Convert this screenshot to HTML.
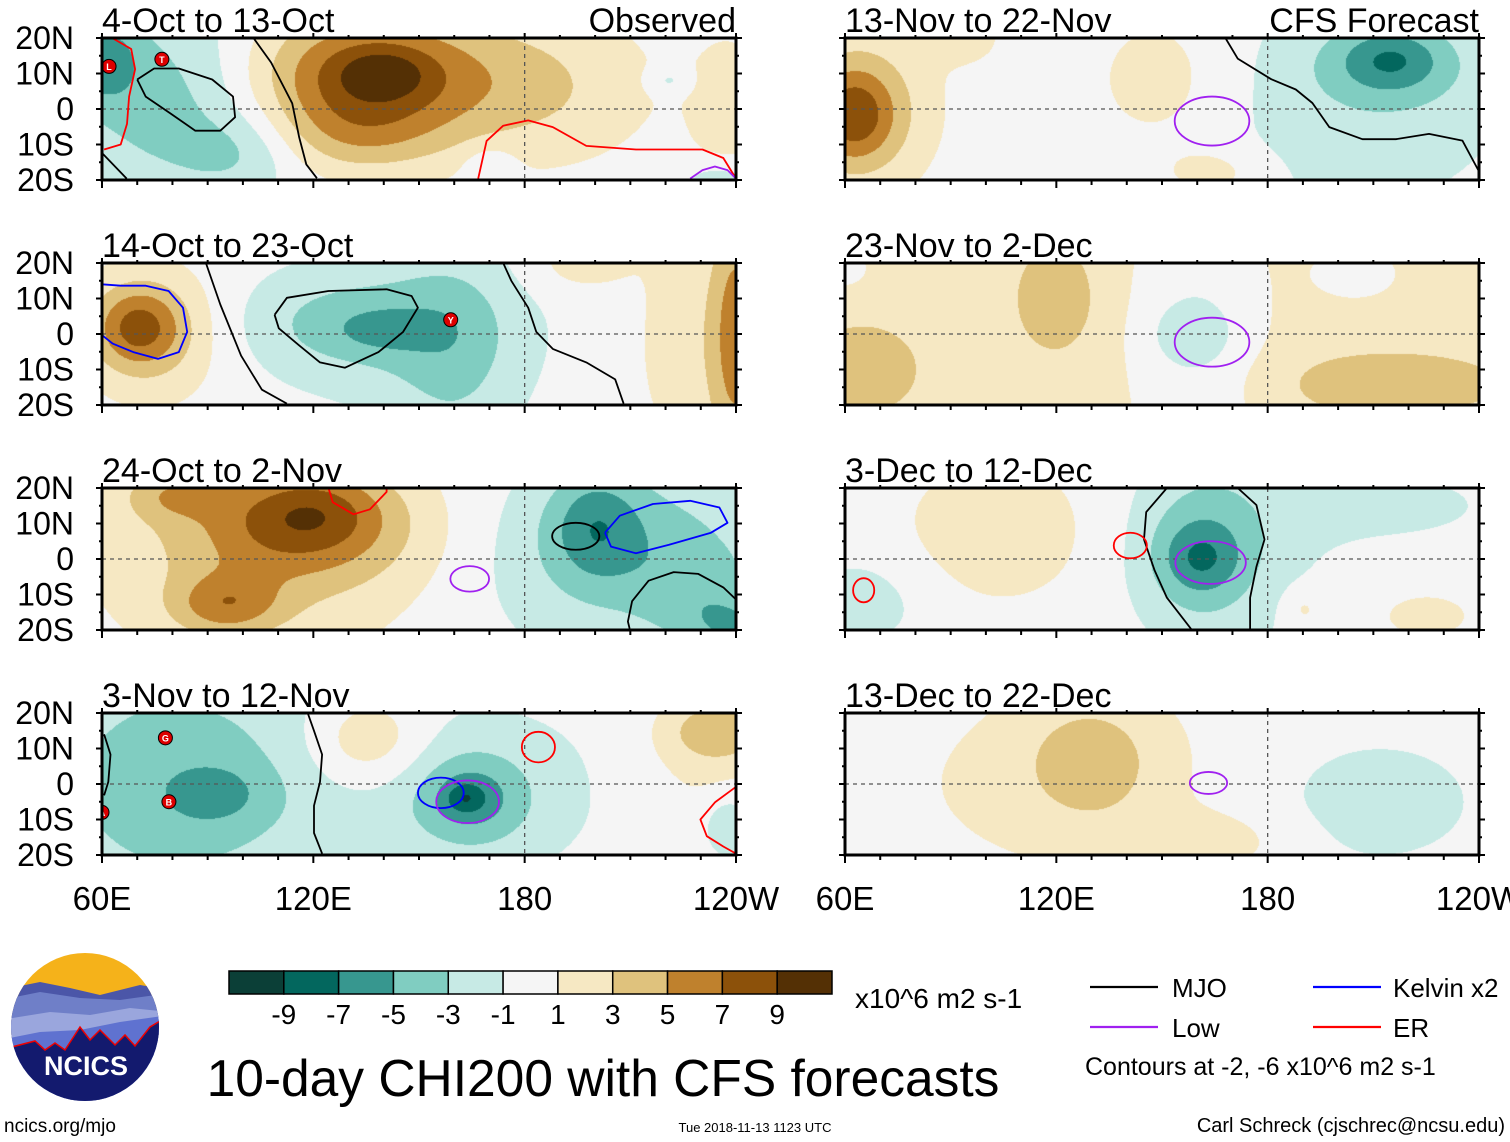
<!DOCTYPE html>
<html><head><meta charset="utf-8"><style>
html,body{margin:0;padding:0;background:#fff;}
#wrap{position:relative;width:1510px;height:1142px;overflow:hidden;font-family:"Liberation Sans",sans-serif;}
canvas{position:absolute;}
svg{position:absolute;left:0;top:0;}
</style></head><body>
<div id="wrap">
<svg id="ov" width="1510" height="1142"></svg>
</div>
<script>
// ---- data ----
const panelTitles = ["4-Oct to 13-Oct","14-Oct to 23-Oct","24-Oct to 2-Nov","3-Nov to 12-Nov","13-Nov to 22-Nov","23-Nov to 2-Dec","3-Dec to 12-Dec","13-Dec to 22-Dec"];
const lonTickLabels = ["60E","120E","180","120W"];
const lonTickValues = [60,120,180,240];
const latTickLabels = ["20N","10N","0","10S","20S"];
const latTickValues = [20,10,0,-10,-20];
const colorBins = ["#0b3f37","#03675e","#37978f","#80cdc1","#c7eae5","#f5f5f5","#f6e8c3","#dfc27d","#bf812d","#8c510a","#543005"];
const colorbarLabels = ["-9","-7","-5","-3","-1","1","3","5","7","9"];
const panelBase = [0,0,0,0,0,1.8,0,0];
// blobs: [lon, lat, sigmaLon, sigmaLat, amplitude]
const fieldBlobs = [
 [[140,10,9,5,2.8],[135,9,24,13,8.2],[132,-8,18,8,2.5],[185,6,22,15,2.8],[238,0,8,15,2],[60,14,7,8,-4.5],[78,3,22,20,-4],[100,-12,12,8,-2.2],[221,8,4,2.5,-2],[236,-20,8,4,-2.5],[170,-16,5,4,-2]],
 [[70,2,9,8,5.5],[75,0,14,14,3],[240,0,5,30,4.5],[230,-2,14,25,2.2],[140,1,9,4,-1.8],[130,3,22,10,-3],[160,-5,12,20,-2.5],[150,0,30,20,-1.5],[195,20,10,6,2]],
 [[120,14,14,8,3.5],[115,8,25,12,4.5],[80,18,10,5,3],[95,-13,11,6,4.5],[110,0,40,25,2.2],[200,10,9,11,-3.5],[210,5,25,15,-2.8],[240,-19,8,5,-3],[200,-5,40,25,-1.5],[230,-12,12,10,-2.2]],
 [[92,-3,10,6,-2.5],[80,0,32,28,-4],[163,-4,4,3,-3],[165,-4,10,8,-3],[165,-5,16,13,-2],[170,0,40,20,-1.2],[238,-12,5,6,-3],[135,12,12,9,3.5],[235,15,10,6,4],[230,5,15,15,1.5]],
 [[62,-2,8,9,5],[65,0,14,16,4],[150,8,15,15,2],[165,-18,10,5,2],[95,20,8,6,1.5],[215,14,10,6,-3.5],[215,12,18,10,-2.5],[205,0,35,25,-1.8]],
 [[120,10,9,12,2.5],[215,-14,25,7,2.5],[65,-10,15,12,2],[160,0,14,30,-2.5],[158,0,8,6,-2],[205,17,10,6,-1.5],[60,18,6,5,-1.5]],
 [[103,8,18,14,2.5],[161,0,8,7,-3.2],[160,2,13,16,-3],[170,5,18,25,-1.5],[215,15,30,10,-1.3],[65,-12,14,10,-1.8],[190,-14,4,4,1.8],[225,-16,10,5,1.8]],
 [[130,7,14,13,3],[120,0,35,20,1.5],[165,-16,15,6,1.8],[210,-5,25,15,-1.7]]
];
// contour polylines: [color, lons, lats]
const contourLines = [
 [["#000",[103,108,114,116,118,121],[20,13.1,1.6,-8,-15.6,-19.5]],
  ["#000",[70,74.8,81.8,91.3,97.2,97.8,93.6,86.5,79.5,72.4,70],[8.3,11.4,11.4,8.3,3.5,-2.3,-6.1,-6.1,-1.3,3.5,8.3]],
  ["#000",[60,67],[-12.4,-19.6]],
  ["#f00",[62.9,68.3,69.4,67.7,67.1,65.3,60.6],[20,16.9,11.2,3.5,-4.2,-10,-11.4]],
  ["#f00",[166.8,169.2,173.9,181,188,197.5,211.6,230.5,236.4,240],[-19.6,-9,-4.7,-3.2,-5.1,-10.4,-11.4,-11.4,-13.8,-19.6]],
  ["#a020f0",[227,230.5,234,237.6,240],[-19.6,-17.2,-16.2,-17.2,-19.6]]],
 [["#000",[89.5,93.6,99.5,105.4,112.5],[20,8.3,-6.1,-15.7,-19.6]],
  ["#000",[109,112.5,124.3,140.8,147.9,149.7,145.5,138.5,129,121.9,116,110.2,109],[5.4,10.2,12.1,12.6,10.7,7.4,0.6,-5.1,-9.5,-8,-3.2,1.6,5.4]],
  ["#000",[173.9,176.2,181,183.3,188,197.5,205.7,208.1],[20,15,7.4,0.6,-4.2,-8,-12.8,-19.6]],
  ["#00f",[60,65.3,72.4,78.9,83,84.2,81.8,75.9,68.9,63,60],[14,13.6,13.6,12.1,7.4,0.6,-5.1,-7,-5.1,-2.7,-0.3]]],
 [["#f00",[124.3,125.5,131.4,136.1,140.8,140.8],[20,16,12.6,14,18.9,20]],
  ["#00f",[202.8,207,216.4,227,235.3,237.6,232.9,221,211.6,204.5,202.8],[7.4,12.2,15.5,16.4,14.5,10.2,7.4,4,1.6,3.5,7.4]],
  ["#000",[209.8,209.3,210.5,215.2,222.3,229.3,236.4,240],[-19.6,-17.6,-11.9,-6.1,-3.7,-4.2,-8,-11.4]]],
 [["#000",[60.6,62.4,61.8,60.6],[14,8.3,0.6,-3.2]],
  ["#000",[118.4,120.2,122.5,121.9,120.2,120.2,122.5],[20,15,8.3,0.6,-6.1,-13.8,-19.6]],
  ["#f00",[240,234.1,229.9,231.7,236.4,240],[-0.8,-5.1,-10,-14.7,-17.6,-19.6]]],
 [["#000",[168,171.5,181,188,192.7,197.5,206.9,216.4,225.8,235.3,240],[20,14.2,8.4,5.5,1.7,-5.1,-8.5,-8.5,-7,-8.9,-17.6]]],
 [],
 [["#000",[158.5,151.4,147.9,144.9,145.5,151.4,160,171.5,176.8,179.1,176.8,175,175],[-20,-10.9,-3.2,5.5,13.2,20,21,20,15.2,5.5,-2.2,-10.9,-20]]],
 []
];
// ellipse contours: [color, lon, lat, rLon, rLat]
const contourEllipses = [
 [],[],
 [["#000",194.5,6.4,6.7,3.8],["#a020f0",164.4,-5.6,5.5,3.6]],
 [["#00f",156.2,-2.5,6.5,4.3],["#a020f0",163.8,-5,8.9,6],["#f00",183.9,10.4,4.7,4.3]],
 [["#a020f0",164.2,-3.4,10.6,6.9]],
 [["#a020f0",164.2,-2.3,10.6,6.9]],
 [["#f00",141,3.8,4.7,3.6],["#f00",65.3,-8.8,3,3.4],["#a020f0",163.8,-1,10,6]],
 [["#a020f0",163.2,0.3,5.3,3.1]]
];
// tropical cyclone markers: [lon, lat, letter]
const stormMarks = [[[62,12,"L"],[77,14,"T"]],[[159,4,"Y"]],[],[[78,13,"G"],[79,-5,"B"],[60,-8,"A"]],[],[],[],[]];

// ---- layout ----
const colX=[102,845], rowY=[38,263,488,713], PW=634, PH=142;
const NS="http://www.w3.org/2000/svg";
const ov=document.getElementById('ov');
const wrap=document.getElementById('wrap');
function mk(tag,attrs,parent){const e=document.createElementNS(NS,tag);for(const k in attrs)e.setAttribute(k,attrs[k]);(parent||ov).appendChild(e);return e;}
function txt(s,x,y,size,anchor,parent){const t=mk('text',{x:x,y:y,'font-size':size,'text-anchor':anchor||'start','font-family':'Liberation Sans, sans-serif',fill:'#000'},parent);t.textContent=s;return t;}
function binIndex(v){let i=Math.floor((v+11)/2);return Math.max(0,Math.min(10,i));}
function hexRgb(h){return [parseInt(h.substr(1,2),16),parseInt(h.substr(3,2),16),parseInt(h.substr(5,2),16)];}
const rgbBins=colorBins.map(hexRgb);

for(let p=0;p<8;p++){
  const c=p<4?0:1, r=p%4;
  const X0=colX[c], Y0=rowY[r];
  const xs=lon=>X0+(lon-60)/180*PW;
  const ys=lat=>Y0+(20-lat)/40*PH;
  const cv=document.createElement('canvas');
  cv.width=PW;cv.height=PH;cv.style.left=X0+'px';cv.style.top=Y0+'px';
  
  
  wrap.insertBefore(cv,ov);
  const ctx=cv.getContext('2d');const img=ctx.createImageData(PW,PH);
  const bl=fieldBlobs[p];
  for(let j=0;j<PH;j++){const lat=20-(j+0.5)/PH*40;
    for(let i=0;i<PW;i++){const lon=60+(i+0.5)/PW*180;
      let v=panelBase[p];
      for(const b of bl){const dx=(lon-b[0])/b[2],dy=(lat-b[1])/b[3];v+=b[4]*Math.exp(-0.5*(dx*dx+dy*dy));}
      const col=rgbBins[binIndex(v)];const k=(j*PW+i)*4;
      img.data[k]=col[0];img.data[k+1]=col[1];img.data[k+2]=col[2];img.data[k+3]=255;}}
  ctx.putImageData(img,0,0);
  const g=mk('g',{});
  
  
  const cp=mk('clipPath',{id:'cp'+p},g);mk('rect',{x:X0,y:Y0,width:PW,height:PH},cp);
  const inner=mk('g',{'clip-path':'url(#cp'+p+')'},g);
  mk('line',{x1:X0,x2:X0+PW,y1:ys(0),y2:ys(0),stroke:'#555','stroke-width':1.3,'stroke-dasharray':'4,4'},inner);
  mk('line',{x1:xs(180),x2:xs(180),y1:Y0,y2:Y0+PH,stroke:'#555','stroke-width':1.3,'stroke-dasharray':'4,4'},inner);
  for(const cl of contourLines[p]){
    const pts=cl[1].map((lo,k)=>xs(lo).toFixed(1)+','+ys(cl[2][k]).toFixed(1)).join(' ');
    const e=mk('polyline',{points:pts,fill:'none',stroke:cl[0],'stroke-width':1.8,'stroke-linejoin':'round'},inner);
    
    
  }
  for(const ce of contourEllipses[p]){
    const e=mk('ellipse',{cx:xs(ce[1]),cy:ys(ce[2]),rx:ce[3]/180*PW,ry:ce[4]/40*PH,fill:'none',stroke:ce[0],'stroke-width':1.8},inner);
    
    
  }
  for(const s of stormMarks[p]){
    const sg=mk('g',{},inner);
    
    
    mk('circle',{cx:xs(s[0]),cy:ys(s[1]),r:7,fill:'#d00',stroke:'#000','stroke-width':1},sg);
    const t=txt(s[2],xs(s[0]),ys(s[1])+3.5,9,'middle',sg);t.setAttribute('fill','#fff');t.setAttribute('font-weight','bold');
  }
  mk('rect',{x:X0,y:Y0,width:PW,height:PH,fill:'none',stroke:'#000','stroke-width':3},g);
  for(let lo=60;lo<=240;lo+=10){const x=xs(lo);const major=lonTickValues.includes(lo);
    mk('line',{x1:x,x2:x,y1:Y0+PH,y2:Y0+PH+(major?8:5),stroke:'#000','stroke-width':2},g);
    mk('line',{x1:x,x2:x,y1:Y0,y2:Y0-(major?5:3),stroke:'#000','stroke-width':2},g);}
  for(let la=-20;la<=20;la+=5){const y=ys(la);
    mk('line',{x1:X0,x2:X0-(la%10===0?6:3),y1:y,y2:y,stroke:'#000','stroke-width':2},g);
    mk('line',{x1:X0+PW,x2:X0+PW+(la%10===0?6:3),y1:y,y2:y,stroke:'#000','stroke-width':2},g);}
  const tt=txt(panelTitles[p],X0,Y0-6,34,'start',g);
  
  
  if(r===0){txt(c===0?'Observed':'CFS Forecast',X0+PW,Y0-6,34,'end',g);}
  if(c===0){latTickValues.forEach((la,k)=>{const t=txt(latTickLabels[k],74,ys(la)+11,32,'end',g);
    
    });}
  if(r===3){lonTickValues.forEach((lo,k)=>{const t=txt(lonTickLabels[k],xs(lo),Y0+PH+55,33,'middle',g);
    
    });}
}
// ---- colorbar ----
const cb=mk('g',{});


const cbX=229,cbW=603,cbY=971,cbH=23,bw=cbW/11;
colorBins.forEach((col,k)=>{const e=mk('rect',{x:cbX+k*bw,y:cbY,width:bw,height:cbH,fill:col,stroke:'#000','stroke-width':1.5},cb);
  
  });
colorbarLabels.forEach((s,k)=>{txt(s,cbX+(k+1)*bw,1024,28,'middle',cb);});
txt('x10^6 m2 s-1',855,1008,28,'start',cb);
const title=txt('10-day CHI200 with CFS forecasts',603,1096,51.5,'middle');


// ---- legend ----
const lg=mk('g',{});


[["MJO","#000",1090,1172,987],["Kelvin x2","#00f",1313,1393,987],["Low","#a020f0",1090,1172,1027],["ER","#f00",1313,1393,1027]].forEach(l=>{
  const eg=mk('g',{},lg);
  
  
  mk('line',{x1:l[2],x2:l[2]+68,y1:l[4],y2:l[4],stroke:l[1],'stroke-width':2.2},eg);
  txt(l[0],l[3],l[4]+10,26,'start',eg);});
txt('Contours at -2, -6 x10^6 m2 s-1',1085,1075,25,'start',lg);
txt('ncics.org/mjo',4,1132,19,'start');
txt('Tue 2018-11-13 1123 UTC',755,1132,13,'middle');
txt('Carl Schreck (cjschrec@ncsu.edu)',1505,1132,20,'end');
// logo
const lo=mk('g',{});


const lcp=mk('clipPath',{id:'lcp'},lo);mk('circle',{cx:85,cy:1027,r:74},lcp);
const lgi=mk('g',{'clip-path':'url(#lcp)'},lo);
mk('rect',{x:0,y:950,width:170,height:160,fill:'#f5b21a'},lgi);
mk('path',{d:'M0 990 L40 982 L70 988 L100 995 L140 985 L170 990 L170 1110 L0 1110Z',fill:'#4b56a8'},lgi);
mk('path',{d:'M0 1000 L40 992 L80 998 L120 1000 L170 993 L170 1110 L0 1110Z',fill:'#6f7fc8'},lgi);
mk('path',{d:'M0 1020 L50 1012 L90 1015 L130 1008 L170 1012 L170 1110 L0 1110Z',fill:'#9aa6dd'},lgi);
mk('path',{d:'M0 1040 L40 1032 L80 1030 L120 1022 L170 1015 L170 1110 L0 1110Z',fill:'#5f72d0'},lgi);
mk('path',{d:'M0 1050 L35 1041 L45 1050 L55 1043 L65 1050 L80 1027 L90 1040 L100 1030 L115 1045 L125 1035 L135 1046 L150 1027 L170 1015 L170 1110 L0 1110Z',fill:'#131a6e',stroke:'#e00','stroke-width':1.5},lgi);
const nt=txt('NCICS',86,1075,27,'middle',lgi);nt.setAttribute('fill','#fff');nt.setAttribute('font-weight','bold');
</script>
</body></html>
